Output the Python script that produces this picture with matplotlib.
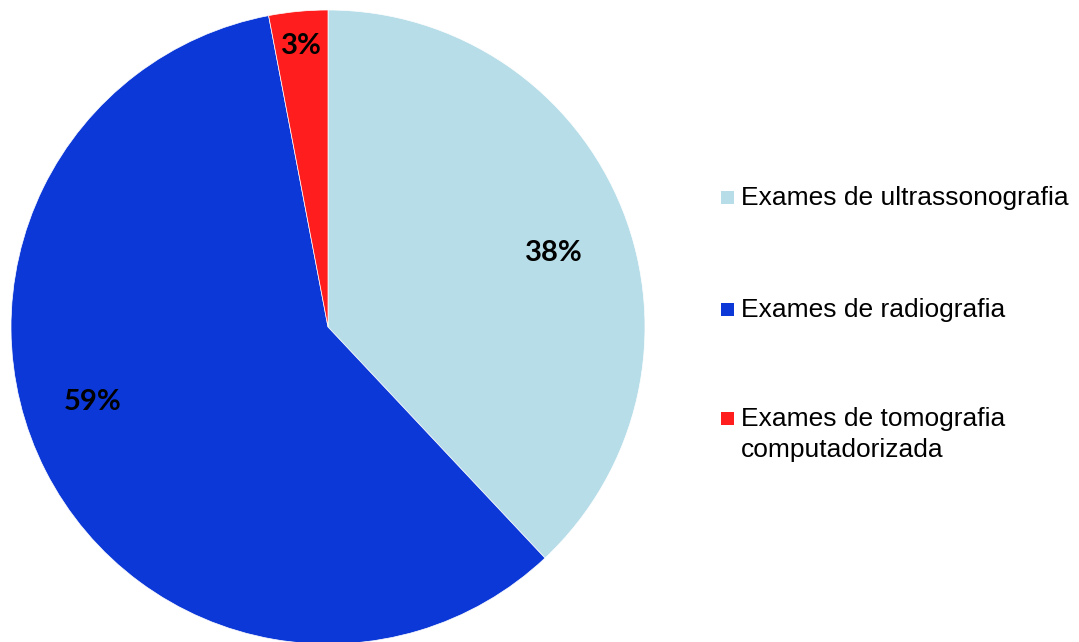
import numpy as np
import matplotlib
matplotlib.use("Agg")
import matplotlib.pyplot as plt
from matplotlib.patches import Rectangle

# dados do grafico
categorias = ["Exames de ultrassonografia", "Exames de radiografia",
              "Exames de tomografia\ncomputadorizada"]
valores = [38, 59, 3]
rotulos = ["38%", "59%", "3%"]
cores = ["#B7DDE8", "#0B38D6", "#FF1D1D"]

fig = plt.figure(figsize=(10.79, 6.42), dpi=100)
W, H = 1079, 642
cx, cy, r = 328, 327, 317
ax = fig.add_axes([(cx - r) / W, (H - cy - r) / H, 2 * r / W, 2 * r / H])

fatias, _ = ax.pie(valores, colors=cores, startangle=90, counterclock=False,
                   wedgeprops=dict(linewidth=0.5, edgecolor="white"))
ax.set_xlim(-1, 1)
ax.set_ylim(-1, 1)
ax.set_aspect("equal")
ax.axis("off")

# rotulos colocados como no original (distancia e desvio de angulo por fatia)
dist = [0.75, 0.78, 0.89]
desvio = [-3.4, -9.4, 0.0]
for f, txt, d, dv in zip(fatias, rotulos, dist, desvio):
    ang = np.deg2rad((f.theta1 + f.theta2) / 2 + dv)
    ax.text(d * np.cos(ang), d * np.sin(ang), txt, ha="center", va="center",
            fontsize=21, fontweight="bold", family=["Lato", "DejaVu Sans"],
            color="black")

# legenda desenhada a mao (quadrado alinhado com a primeira linha)
base = [205, 316.5, 426]   # linha de base em px, a partir do topo
for cor, cat, b in zip(cores, categorias, base):
    fig.add_artist(Rectangle((721 / W, 1 - (b - 1) / H), 13 / W, 13 / H,
                             transform=fig.transFigure, facecolor=cor,
                             edgecolor="none"))
    for i, linha in enumerate(cat.split("\n")):
        fig.text(741 / W, 1 - (b + 31 * i) / H, linha, ha="left", va="baseline",
                 fontsize=19, family="Liberation Sans", color="black")

fig.savefig("out.png", dpi=100)
